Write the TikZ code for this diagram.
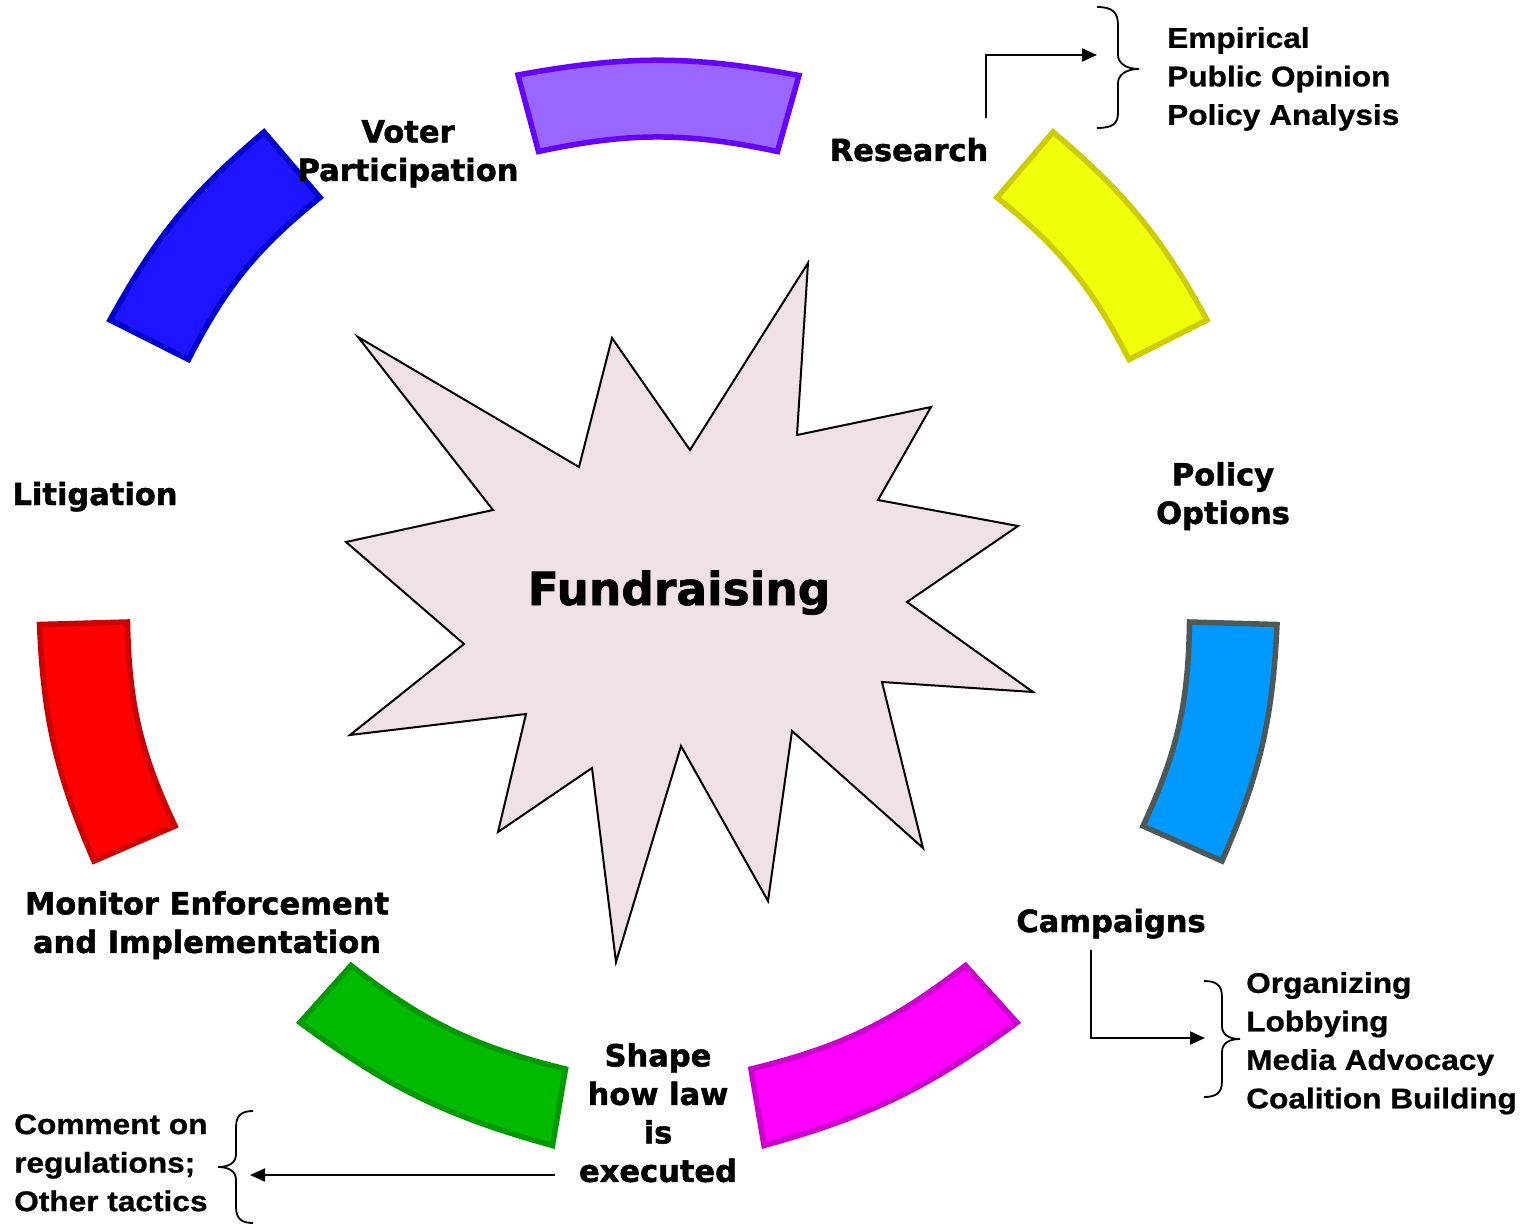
\documentclass[tikz,border=0pt]{standalone}
\usepackage{fontspec}
\usetikzlibrary{arrows.meta}
\newfontfamily\heavyfont{DejaVu Sans}[BoldFeatures={FakeBold=1.5}]
\newfontfamily\listfont{Liberation Sans}[FakeStretch=1.11, BoldFeatures={FakeBold=0.8}]

\definecolor{purpF}{RGB}{153,102,255}\definecolor{purpD}{RGB}{102,0,255}
\definecolor{yelF}{RGB}{240,255,10}\definecolor{yelD}{RGB}{204,204,0}
\definecolor{bluF}{RGB}{0,153,255}\definecolor{bluD}{RGB}{77,89,89}
\definecolor{magF}{RGB}{255,0,255}\definecolor{magD}{RGB}{204,0,204}
\definecolor{grnF}{RGB}{0,187,0}\definecolor{grnD}{RGB}{0,153,0}
\definecolor{redF}{RGB}{255,0,0}\definecolor{redD}{RGB}{204,0,0}
\definecolor{dbF}{RGB}{30,20,255}\definecolor{dbD}{RGB}{0,0,204}
\definecolor{burstF}{RGB}{240,224,231}

\begin{document}
\begin{tikzpicture}[x=1pt,y=-1pt,
  seg/.style={line width=5.5pt, line join=miter},
  lbl/.style={font=\heavyfont\bfseries\fontsize{30.5}{38.5}\selectfont, align=center, inner sep=0pt},
  lst/.style={font=\listfont\bfseries\fontsize{28.5}{38.5}\selectfont, align=left, inner sep=0pt},
  conn/.style={line width=2pt},
  arr/.style={conn, -{Triangle[length=15pt,width=13pt]}},
  brc/.style={line width=1.8pt}
]
\useasboundingbox (0,0) rectangle (1534,1225);
\fill[white] (0,0) rectangle (1534,1225);

% ring segments
\draw[seg, draw=purpD, fill=purpF] (518,75) to[bend left=10.5] (799,75.5) -- (777.5,151.5) to[bend right=12] (538.5,151.5) -- cycle;
\draw[seg, draw=yelD, fill=yelF] (1053,132) to[bend left=10.5] (1207,320) -- (1129,359.5) to[bend right=12] (997,197.5) -- cycle;
\draw[seg, draw=bluD, fill=bluF] (1277,624.5) to[bend left=10.5] (1222,861) -- (1143,826) to[bend right=12] (1189.5,622) -- cycle;
\draw[seg, draw=magD, fill=magF] (1017,1022.5) to[bend left=10.5] (764,1145.5) -- (751,1069) to[bend right=12] (965.5,965.5) -- cycle;
\draw[seg, draw=grnD, fill=grnF] (552.5,1145.5) to[bend left=10.5] (300,1022.5) -- (351,965.5) to[bend right=12] (565.5,1069) -- cycle;
\draw[seg, draw=redD, fill=redF] (94,861) to[bend left=10.5] (39.5,624.5) -- (127.5,622) to[bend right=12] (175,826) -- cycle;
\draw[seg, draw=dbD, fill=dbF] (110,320) to[bend left=10.5] (264,132) -- (320,197.5) to[bend right=12] (188.5,359.5) -- cycle;

% starburst
\draw[line width=2pt, line join=miter, fill=burstF]
 (808,263) -- (797,435) -- (931,407) -- (878,500) -- (1018,526) -- (907,602)
 -- (1033,692) -- (882,682) -- (923,848) -- (792,731) -- (768,901) -- (681,746)
 -- (616,962) -- (592,768) -- (498,832) -- (526,714) -- (350,735) -- (464,644)
 -- (346,542) -- (493,510) -- (358,337) -- (579,467) -- (612,338) -- (690,450) -- cycle;
\node[lbl, font=\heavyfont\bfseries\fontsize{45.5}{50}\selectfont, anchor=base] (fund) at (679,605) {Fundraising};

% labels
\node[lbl, anchor=north] (voter) at (408,120) {Voter\\Participation};
\node[lbl, anchor=base] (research) at (909,161) {Research};
\node[lbl, anchor=north] (policy) at (1223,462) {Policy\\Options};
\node[lbl, anchor=base] (campaigns) at (1111,932) {Campaigns};
\node[lbl, anchor=north] (shape) at (658,1043) {Shape\\how law\\is\\executed};
\node[lbl, anchor=north] (monitor) at (207,891) {Monitor Enforcement\\and Implementation};
\node[lbl, anchor=base] (litig) at (95,505) {Litigation};

% lists
\node[lst, anchor=north west] (reslist) at (1167,27) {Empirical\\Public Opinion\\Policy Analysis};
\node[lst, anchor=north west] (camplist) at (1246,972) {Organizing\\Lobbying\\Media Advocacy\\Coalition Building};
\node[lst, anchor=north west] (shapelist) at (14,1114) {Comment on\\regulations;\\Other tactics};

% braces
\draw[brc] (1097,7) .. controls (1112,7) and (1118,12) .. (1118,25) -- (1118,55)
  .. controls (1118,63) and (1126,69) .. (1139,69) .. controls (1126,69) and (1118,75) .. (1118,83)
  -- (1118,113) .. controls (1118,124) and (1112,128) .. (1097,128);
\draw[brc] (1204,981) .. controls (1216,981) and (1222,985) .. (1222,997) -- (1222,1026)
  .. controls (1222,1034) and (1228,1039) .. (1240,1039) .. controls (1228,1039) and (1222,1044) .. (1222,1052)
  -- (1222,1081) .. controls (1222,1093) and (1216,1097) .. (1204,1097);
\draw[brc] (253,1111) .. controls (242,1111) and (236,1115) .. (236,1127) -- (236,1154)
  .. controls (236,1162) and (230,1167) .. (218,1167) .. controls (230,1167) and (236,1172) .. (236,1180)
  -- (236,1207) .. controls (236,1219) and (242,1223) .. (253,1223);

% connectors
\coordinate (resFrom) at (986,118);
\coordinate (resTo) at (1097,55);
\coordinate (campFrom) at (1091,950);
\coordinate (campTo) at (1205,1038);
\coordinate (shapeFrom) at (555,1175);
\coordinate (shapeTo) at (250,1175);
\draw[arr] (resFrom) |- (resTo);
\draw[arr] (campFrom) |- (campTo);
\draw[arr] (shapeFrom) -- (shapeTo);
\end{tikzpicture}
\end{document}
